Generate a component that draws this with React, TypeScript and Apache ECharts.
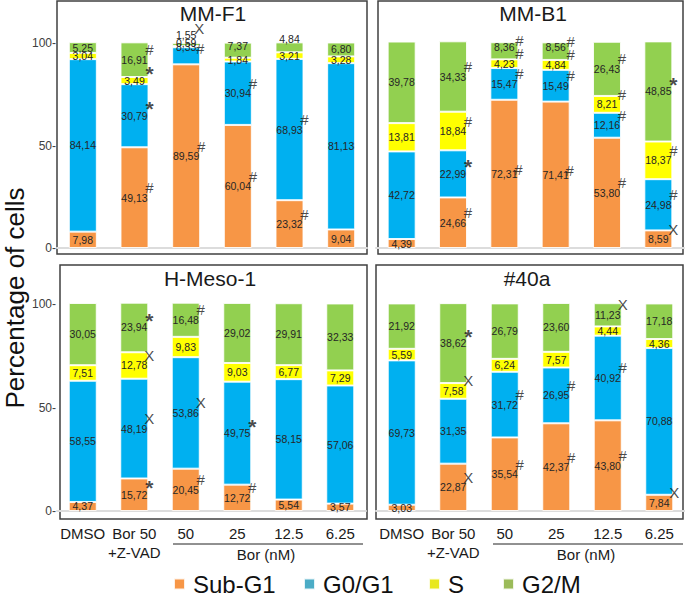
import React, { useEffect, useRef } from 'react';
import * as echarts from 'echarts';

// ---------- data ----------
const CATEGORIES = ['DMSO', 'Bor 50\n+Z-VAD', '50', '25', '12.5', '6.25'];
const PHASES = ['Sub-G1', 'G0/G1', 'S', 'G2/M'];
const Y_TICKS = [0, 50, 100];

// MM-F1
const mmF1SubG1 = [7.98, 49.13, 89.59, 60.04, 23.32, 9.04];
const mmF1G0G1 = [84.14, 30.79, 8.33, 30.94, 68.93, 81.13];
const mmF1S = [3.04, 3.49, 0.59, 1.84, 3.21, 3.28];
const mmF1G2M = [5.25, 16.91, 1.55, 7.37, 4.84, 6.8];
const mmF1SubG1Marks = ['', '#', '#', '#', '#', ''];
const mmF1G0G1Marks = ['', '*', '#', '#', '#', ''];
const mmF1SMarks = ['', '*', '', '', '', ''];
const mmF1G2MMarks = ['', '#', 'X', '', '', ''];

// MM-B1
const mmB1SubG1 = [4.39, 24.66, 72.31, 71.41, 53.8, 8.59];
const mmB1G0G1 = [42.72, 22.99, 15.47, 15.49, 12.16, 24.98];
const mmB1S = [13.81, 18.84, 4.23, 4.84, 8.21, 18.37];
const mmB1G2M = [39.78, 34.33, 8.36, 8.56, 26.43, 48.85];
const mmB1SubG1Marks = ['', '#', '#', '#', '#', 'X'];
const mmB1G0G1Marks = ['', '*', '#', '#', '#', '#'];
const mmB1SMarks = ['', '#', '#', '#', '#', '#'];
const mmB1G2MMarks = ['', '#', '#', '#', '#', '*'];

// H-Meso-1
const hMesoSubG1 = [4.37, 15.72, 20.45, 12.72, 5.54, 3.57];
const hMesoG0G1 = [58.55, 48.19, 53.86, 49.75, 58.15, 57.06];
const hMesoS = [7.51, 12.78, 9.83, 9.03, 6.77, 7.29];
const hMesoG2M = [30.05, 23.94, 16.48, 29.02, 29.91, 32.33];
const hMesoSubG1Marks = ['', '*', '#', '#', '', ''];
const hMesoG0G1Marks = ['', 'X', 'X', '*', '', ''];
const hMesoSMarks = ['', 'X', '', '', '', ''];
const hMesoG2MMarks = ['', '*', '#', '', '', ''];

// #40a
const p40aSubG1 = [3.03, 22.87, 35.54, 42.37, 43.8, 7.84];
const p40aG0G1 = [69.73, 31.35, 31.72, 26.95, 40.92, 70.88];
const p40aS = [5.59, 7.58, 6.24, 7.57, 4.44, 4.36];
const p40aG2M = [21.92, 38.62, 26.79, 23.6, 11.23, 17.18];
const p40aSubG1Marks = ['', 'X', '#', '#', '#', 'X'];
const p40aG0G1Marks = ['', '', '#', '#', '#', ''];
const p40aSMarks = ['', 'X', '', '', '', ''];
const p40aG2MMarks = ['', '*', '', '', 'X', ''];

const PANELS = [
  { key: 'F1', title: 'MM-F1', values: [mmF1SubG1, mmF1G0G1, mmF1S, mmF1G2M], marks: [mmF1SubG1Marks, mmF1G0G1Marks, mmF1SMarks, mmF1G2MMarks] },
  { key: 'B1', title: 'MM-B1', values: [mmB1SubG1, mmB1G0G1, mmB1S, mmB1G2M], marks: [mmB1SubG1Marks, mmB1G0G1Marks, mmB1SMarks, mmB1G2MMarks] },
  { key: 'HM', title: 'H-Meso-1', values: [hMesoSubG1, hMesoG0G1, hMesoS, hMesoG2M], marks: [hMesoSubG1Marks, hMesoG0G1Marks, hMesoSMarks, hMesoG2MMarks] },
  { key: '40', title: '#40a', values: [p40aSubG1, p40aG0G1, p40aS, p40aG2M], marks: [p40aSubG1Marks, p40aG0G1Marks, p40aSMarks, p40aG2MMarks] },
];

// ---------- styles / layout ----------
const FONT = 'Liberation Sans, Arial, sans-serif';
const BAR_COLORS = ['#f79646', '#00b0f0', '#ffff00', '#92d050'];
const LEGEND_COLORS = ['#f79646', '#4bacc6', '#e8e81c', '#9bbb59'];
const LEGEND_LEFT = [173, 303, 428, 502];

const GRIDS = [
  { left: 57, top: 43, width: 310, height: 205 },
  { left: 376, top: 43, width: 308, height: 205 },
  { left: 57, top: 304, width: 309, height: 207 },
  { left: 376, top: 304, width: 309, height: 207 },
];
const BORDERS = [
  { x: 57, y: 1, width: 310, height: 253 },
  { x: 378, y: 1, width: 305, height: 253 },
  { x: 60, y: 265, width: 307, height: 254 },
  { x: 376, y: 265, width: 307, height: 254 },
];
const TITLE_POS = [
  [213, 13],
  [533, 13],
  [210, 278],
  [527, 278],
];

// label offsets for tiny segments (key: panel-phase-index)
const LABEL_OFFSETS: Record<string, number[]> = {
  'F1-3-2': [0, -9.5],
  'F1-2-2': [0, -4],
  'F1-1-2': [0, -9],
  'F1-3-3': [0, -4],
  'F1-3-4': [0, -8],
  'B1-3-2': [0, -4],
  'B1-3-3': [0, -4],
};
const MARK_OFFSETS: Record<string, number[]> = {
  'F1-1-2': [14, -7],
  'F1-3-2': [13, -15.5],
  'B1-0-2': [14, -4],
  'B1-0-3': [14, -4],
};
const DEFAULT_MARK_OFFSET = [15, -10];

const fmt = (v: number) => v.toFixed(2).replace('.', ',');

function buildOption() {
  const series: any[] = [];
  PANELS.forEach((p, gi) => {
    p.values.forEach((vals, pi) => {
      series.push({
        type: 'bar',
        name: PHASES[pi],
        xAxisIndex: gi,
        yAxisIndex: gi,
        stack: 'panel' + gi,
        barWidth: 28,
        clip: false,
        itemStyle: { color: BAR_COLORS[pi], borderColor: 'rgba(255,255,255,0.85)', borderWidth: 1 },
        label: {
          show: true,
          position: 'inside',
          fontSize: 10.5,
          fontFamily: FONT,
          color: '#262626',
          formatter: (d: any) => fmt(d.value),
        },
        data: vals.map((v, i) => {
          const off = LABEL_OFFSETS[`${p.key}-${pi}-${i}`];
          return off ? { value: v, label: { offset: off } } : v;
        }),
      });
    });
    // significance markers
    const markData: any[] = [];
    p.values.forEach((vals, pi) => {
      vals.forEach((v, i) => {
        const m = p.marks[pi][i];
        if (!m) return;
        let base = 0;
        for (let k = 0; k < pi; k++) base += p.values[k][i];
        const off = MARK_OFFSETS[`${p.key}-${pi}-${i}`] || DEFAULT_MARK_OFFSET;
        const isStar = m === '*';
        markData.push({
          value: [i, base + v / 2],
          mark: m,
          label: {
            offset: isStar ? [off[0], off[1] + 3] : off,
            fontSize: isStar ? 21 : 15,
            fontWeight: isStar ? 'bold' : 'normal',
          },
        });
      });
    });
    series.push({
      type: 'scatter',
      name: 'marks' + gi,
      xAxisIndex: gi,
      yAxisIndex: gi,
      symbolSize: 1,
      clip: false,
      itemStyle: { color: 'transparent' },
      silent: true,
      label: {
        show: true,
        position: 'inside',
        fontFamily: FONT,
        color: '#1a1a1a',
        formatter: (d: any) => d.data.mark,
      },
      data: markData,
    });
  });

  const graphic: any[] = [];
  BORDERS.forEach((b) => {
    graphic.push({
      type: 'rect',
      shape: b,
      style: { fill: 'none', stroke: '#404040', lineWidth: 1.5 },
      silent: true,
    });
  });
  PANELS.forEach((p, gi) => {
    graphic.push({
      type: 'text',
      x: TITLE_POS[gi][0],
      y: TITLE_POS[gi][1],
      style: { text: p.title, fontSize: 21, fontFamily: FONT, fill: '#1a1a1a', align: 'center', verticalAlign: 'middle' },
    });
  });
  graphic.push({
    type: 'text',
    x: 15,
    y: 298,
    rotation: Math.PI / 2,
    style: { text: 'Percentage of cells', fontSize: 26, fontFamily: FONT, fill: '#111', align: 'center', verticalAlign: 'middle' },
  });
  [
    [173, 363, 266],
    [493, 683, 586],
  ].forEach(([x1, x2, tx]) => {
    graphic.push({ type: 'line', shape: { x1, y1: 544, x2, y2: 544 }, style: { stroke: '#222', lineWidth: 1 } });
    graphic.push({
      type: 'text',
      x: tx,
      y: 554,
      style: { text: 'Bor (nM)', fontSize: 15, fontFamily: FONT, fill: '#1a1a1a', align: 'center', verticalAlign: 'middle' },
    });
  });

  return {
    animation: false,
    textStyle: { fontFamily: FONT },
    grid: GRIDS.map((g) => ({ ...g, containLabel: false })),
    xAxis: GRIDS.map((_, gi) => ({
      type: 'category',
      gridIndex: gi,
      data: CATEGORIES,
      axisTick: { show: false },
      axisLine: { lineStyle: { color: '#dcdcdc', width: 2 } },
      axisLabel: {
        show: gi >= 2,
        interval: 0,
        fontSize: 15,
        lineHeight: 19,
        color: '#1a1a1a',
        margin: 13,
      },
    })),
    yAxis: GRIDS.map((_, gi) => ({
      type: 'value',
      gridIndex: gi,
      min: Y_TICKS[0],
      max: Y_TICKS[Y_TICKS.length - 1],
      interval: Y_TICKS[1] - Y_TICKS[0],
      splitLine: { show: false },
      axisLine: { show: false },
      axisTick: { show: false },
      axisLabel: {
        show: gi % 2 === 0,
        formatter: (v: number) => `${v}-`,
        fontSize: 12,
        color: '#404040',
        margin: 1,
      },
    })),
    legend: PHASES.map((name, i) => ({
      data: [{ name, itemStyle: { color: LEGEND_COLORS[i] } }],
      left: LEGEND_LEFT[i],
      top: 572,
      padding: 0,
      icon: 'rect',
      itemWidth: 11,
      itemHeight: 11,
      selectedMode: false,
      textStyle: { fontSize: 24, lineHeight: 24, color: '#111', fontFamily: FONT, padding: [0, 0, 0, 3] },
    })),
    graphic,
    series,
  };
}

export default function App() {
  const ref = useRef<HTMLDivElement>(null);
  useEffect(() => {
    const chart = echarts.init(ref.current!, null, { renderer: 'svg' });
    chart.setOption(buildOption());
    return () => chart.dispose();
  }, []);
  return <div ref={ref} style={{ position: 'absolute', left: 0, top: 0, width: 685, height: 596 }} />;
}
